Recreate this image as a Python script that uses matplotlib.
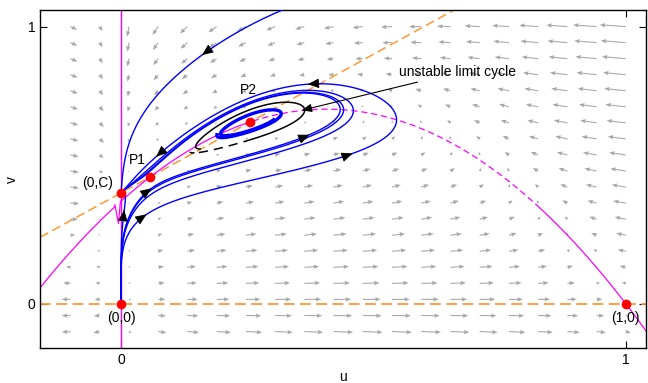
import numpy as np
import matplotlib
matplotlib.use("Agg")
import matplotlib.pyplot as plt

plt.rcParams['font.family'] = ['Liberation Sans', 'DejaVu Sans']
plt.rcParams['font.size'] = 10

# model: u' = u(1-u) - a u v/(u+d),  v' = s v (1 - v/(u+C))
a = 0.5
d = 0.185
C = 0.4
s = 0.181

# equilibria
eq_u = [0.0, 0.0, 0.0585, 0.2565, 1.0]
eq_v = [0.0, 0.4, 0.4585, 0.6565, 0.0]
eq_labels = ['(0,0)', '(0,C)', 'P1', 'P2', '(1,0)']
label_u = [0.0, -0.016, 0.033, 0.252, 1.0]
label_v = [-0.05, 0.435, 0.518, 0.77, -0.05]
label_ha = ['center', 'right', 'center', 'center', 'center']

# starting points of the trajectories (u0 = 10**-k, v0 near zero)
start_exp = [9.4, 9.72, 9.78, 9.8, 10.3]
start_v = 0.01
top_start = (0.32, 1.06)
spiral_start = (0.19, 0.61)

# where the arrow heads sit on the trajectories
arrow_u = [0.008, 0.059, 0.049, 0.069, 0.152, 0.37, 0.374, 0.459]
arrow_v = [0.338, 0.42, 0.327, 0.532, 0.92, 0.795, 0.608, 0.543]

# little spike of the contour near (0,C)
spike_u = [-0.012, -0.005, -0.001]
spike_v = [0.357, 0.29, 0.37]

grid = np.linspace(-0.1, 1.0, 20)


def field(u, v):
    du = u * (1 - u) - a * u * v / (u + d)
    dv = s * v * (1 - v / (u + C))
    return du, dv


def rk4(p0, dt, n):
    u, v = p0
    out = [(u, v)]
    for i in range(n):
        k1 = field(u, v)
        k2 = field(u + dt / 2 * k1[0], v + dt / 2 * k1[1])
        k3 = field(u + dt / 2 * k2[0], v + dt / 2 * k2[1])
        k4 = field(u + dt * k3[0], v + dt * k3[1])
        u = u + dt / 6 * (k1[0] + 2 * k2[0] + 2 * k3[0] + k4[0])
        v = v + dt / 6 * (k1[1] + 2 * k2[1] + 2 * k3[1] + k4[1])
        out.append((u, v))
    return np.array(out)


fig = plt.figure(figsize=(6.48, 3.83), dpi=100)
ax = fig.add_axes([0.062, 0.091, 0.935, 0.883])

# direction field
U, V = np.meshgrid(grid, grid)
dU, dV = field(U, V)
mag = np.hypot(dU, dV)
h = grid[1] - grid[0]
ref = mag[U >= 0].max()
length = 0.9 * h * (np.minimum(mag, ref) / ref) ** 0.7
length[U < 0] = np.minimum(length[U < 0], 0.3 * h)
ax.quiver(U, V, dU / mag * length, dV / mag * length, angles='xy',
          scale_units='xy', scale=1, color='#a8a8a8', width=0.0018,
          headwidth=4, headlength=5, headaxislength=4.5, zorder=1)

# nullclines
ax.axhline(0, color='#ff9933', lw=1.3, dashes=(6, 3), zorder=2)
ul = np.linspace(-0.16, 0.66, 10)
ax.plot(ul, C + ul, color='#ff9933', lw=1.1, dashes=(6, 3), zorder=2)
ax.axvline(0, color='#ff00ff', lw=1.0, zorder=2)
uu = np.linspace(-0.16, 1.04, 600)
vv = (1 - uu) * (uu + d) / a
left = uu < -0.012
ax.plot(np.r_[uu[left], spike_u], np.r_[vv[left], spike_v], color='#ff00ff', lw=0.9, zorder=2)
m1 = (uu >= 0) & (uu < 0.26)
m2 = (uu >= 0.26) & (uu < 0.82)
m3 = uu >= 0.82
ax.plot(uu[m1], vv[m1], color='#ff00ff', lw=0.9, zorder=2)
ax.plot(uu[m2], vv[m2], color='#ff00ff', lw=0.9, dashes=(5, 3), zorder=2)
ax.plot(uu[m3], vv[m3], color='#ff00ff', lw=0.9, zorder=2)

# trajectories
trajs = [rk4((10 ** -k, start_v), 0.02, 15000) for k in start_exp]
trajs.append(rk4(top_start, 0.02, 10000))
for tr in trajs:
    ax.plot(tr[:, 0], tr[:, 1], color='#0000ff', lw=1.0, zorder=3)
sp = rk4(spiral_start, 0.02, 3200)
ax.plot(sp[:, 0], sp[:, 1], color='#0000ff', lw=2.4, zorder=3)

# unstable limit cycle (backward in time)
back = rk4((0.25, 0.64), -0.02, 30000)[-2600:]
low = (back[:, 0] < 0.26) & (back[:, 1] < C + back[:, 0])
cyc_solid = np.where(low, np.nan, back[:, 1])
cyc_dash = np.where(low, back[:, 1], np.nan)
ax.plot(back[:, 0], cyc_solid, color='k', lw=1.1, zorder=4)
ax.plot(back[:, 0], cyc_dash, color='k', lw=1.1, dashes=(6, 4), zorder=4)

# arrow heads on trajectories
for au, av in zip(arrow_u, arrow_v):
    best = None
    for tr in trajs:
        dist = np.hypot((tr[:-1, 0] - au) * 508, (tr[:-1, 1] - av) * 278)
        j = int(np.argmin(dist))
        if best is None or dist[j] < best[0]:
            best = (dist[j], tr, j)
    _, tr, j = best
    step = tr[j + 1] - tr[j]
    step = step / np.hypot(step[0], step[1])
    ax.annotate('', xy=(tr[j, 0], tr[j, 1]),
                xytext=(tr[j, 0] - 0.004 * step[0], tr[j, 1] - 0.004 * step[1]),
                arrowprops=dict(arrowstyle='-|>,head_length=0.7,head_width=0.3',
                                color='k', lw=0.6, shrinkA=0, shrinkB=0),
                zorder=5)

ax.annotate('unstable limit cycle', xy=(0.358, 0.698), xytext=(0.551, 0.835),
            va='center', ha='left',
            arrowprops=dict(arrowstyle='-|>,head_length=0.6,head_width=0.25',
                            color='k', lw=0.8, shrinkA=0, shrinkB=0), zorder=6)

ax.plot(eq_u, eq_v, 'o', color='#ff0000', ms=7, zorder=7, markeredgewidth=0)
for t, lu, lv, ha in zip(eq_labels, label_u, label_v, label_ha):
    ax.text(lu, lv, t, ha=ha, va='center', zorder=7)

ax.set_xlim(-0.16, 1.04)
ax.set_ylim(-0.16, 1.06)
ax.set_xticks([0, 1])
ax.set_yticks([0, 1])
ax.tick_params(direction='in', length=5, top=True, right=True, width=0.8)
for sp_ in ax.spines.values():
    sp_.set_linewidth(1.0)
ax.set_xlabel('u', labelpad=2)
ax.set_ylabel('v', labelpad=6)

fig.savefig("out.png")
